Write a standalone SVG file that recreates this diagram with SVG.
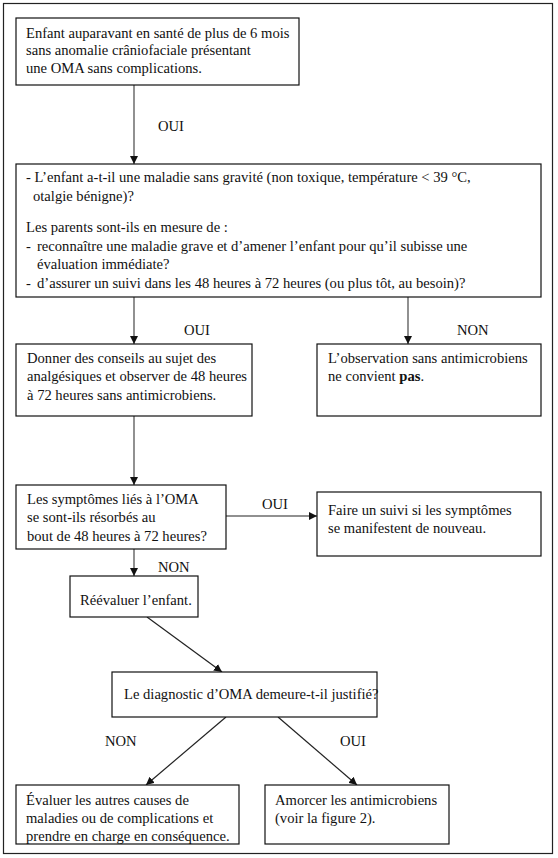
<svg xmlns="http://www.w3.org/2000/svg" width="558" height="858" viewBox="0 0 558 858">
<defs>
<marker id="ah" viewBox="0 0 10 10" refX="10" refY="5" markerWidth="8" markerHeight="8" markerUnits="userSpaceOnUse" orient="auto">
<path d="M0,0 L10,5 L0,10 z" fill="#111"/>
</marker>
</defs>
<style>
.box{fill:#fff;stroke:#111;stroke-width:1.2}
.frame{fill:#fff;stroke:#222;stroke-width:1.2}
.t{font-family:"Liberation Serif","Times New Roman",serif;font-size:14.6px;fill:#111}
.lbl{font-family:"Liberation Serif","Times New Roman",serif;font-size:14.6px;fill:#111}
.c{stroke:#555;stroke-width:1.3;fill:none;marker-end:url(#ah)}
.d{stroke:#222;stroke-width:1.2;fill:none;marker-end:url(#ah)}
</style>
<rect class="frame" x="3.5" y="3.5" width="549" height="850"/>
<g id="connectors">
<line class="c" x1="134" y1="85" x2="134" y2="164"/>
<line class="c" x1="134" y1="297" x2="134" y2="344"/>
<line class="c" x1="408" y1="297" x2="408" y2="344"/>
<line class="c" x1="134" y1="416" x2="134" y2="485"/>
<line class="d" x1="226" y1="516" x2="317" y2="516"/>
<line class="c" x1="134" y1="549" x2="134" y2="576"/>
<line class="d" x1="147" y1="617" x2="222" y2="672"/>
<line class="d" x1="226" y1="717" x2="146" y2="785"/>
<line class="d" x1="278" y1="717" x2="357" y2="785"/>
<text class="lbl" x="158" y="131">OUI</text>
<text class="lbl" x="184" y="335">OUI</text>
<text class="lbl" x="457" y="335">NON</text>
<text class="lbl" x="262" y="509">OUI</text>
<text class="lbl" x="158" y="572">NON</text>
<text class="lbl" x="105" y="746">NON</text>
<text class="lbl" x="340" y="746">OUI</text>
</g>
<g id="n1">
<rect class="box" x="16" y="18" width="283" height="67"/>
<text class="t" x="26" y="38">Enfant auparavant en santé de plus de 6 mois</text>
<text class="t" x="26" y="55">sans anomalie crâniofaciale présentant</text>
<text class="t" x="26" y="73">une OMA sans complications.</text>
</g>
<g id="n2">
<rect class="box" x="16" y="164" width="525" height="133"/>
<text class="t" x="26" y="182">- L’enfant a-t-il une maladie sans gravité (non toxique, température &lt; 39 °C,</text>
<text class="t" x="33" y="201">otalgie bénigne)?</text>
<text class="t" x="26" y="232">Les parents sont-ils en mesure de :</text>
<text class="t" y="251"><tspan x="26">-</tspan><tspan x="37">reconnaître une maladie grave et d’amener l’enfant pour qu’il subisse une</tspan></text>
<text class="t" x="37" y="269">évaluation immédiate?</text>
<text class="t" y="288"><tspan x="26">-</tspan><tspan x="37">d’assurer un suivi dans les 48 heures à 72 heures (ou plus tôt, au besoin)?</tspan></text>
</g>
<g id="n3">
<rect class="box" x="16" y="344" width="236" height="72"/>
<text class="t" x="27" y="363">Donner des conseils au sujet des</text>
<text class="t" x="27" y="381">analgésiques et observer de 48 heures</text>
<text class="t" x="27" y="400">à 72 heures sans antimicrobiens.</text>
</g>
<g id="n4">
<rect class="box" x="317" y="344" width="224" height="72"/>
<text class="t" x="328" y="363">L’observation sans antimicrobiens</text>
<text class="t" x="328" y="381">ne convient <tspan font-weight="bold">pas</tspan>.</text>
</g>
<g id="n5">
<rect class="box" x="16" y="485" width="210" height="64"/>
<text class="t" x="27" y="504">Les symptômes liés à l’OMA</text>
<text class="t" x="27" y="522">se sont-ils résorbés au</text>
<text class="t" x="27" y="541">bout de 48 heures à 72 heures?</text>
</g>
<g id="n6">
<rect class="box" x="317" y="492" width="224" height="64"/>
<text class="t" x="328" y="515">Faire un suivi si les symptômes</text>
<text class="t" x="328" y="533">se manifestent de nouveau.</text>
</g>
<g id="n7">
<rect class="box" x="70" y="576" width="128" height="41"/>
<text class="t" x="80" y="605">Réévaluer l’enfant.</text>
</g>
<g id="n8">
<rect class="box" x="112" y="672" width="265" height="45"/>
<text class="t" x="124" y="699">Le diagnostic d’OMA demeure-t-il justifié?</text>
</g>
<g id="n9">
<rect class="box" x="16" y="785" width="223" height="59"/>
<text class="t" x="26" y="805">Évaluer les autres causes de</text>
<text class="t" x="26" y="823">maladies ou de complications et</text>
<text class="t" x="26" y="841">prendre en charge en conséquence.</text>
</g>
<g id="n10">
<rect class="box" x="265" y="785" width="184" height="59"/>
<text class="t" x="275" y="805">Amorcer les antimicrobiens</text>
<text class="t" x="275" y="823">(voir la figure 2).</text>
</g>
</svg>
